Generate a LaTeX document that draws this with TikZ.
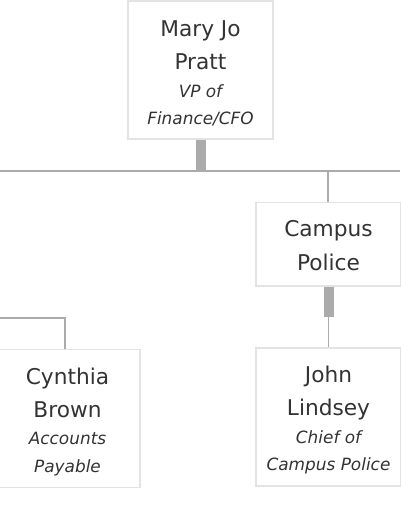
\documentclass[tikz,border=0pt]{standalone}
\usepackage{fontspec}
\setmainfont{DejaVu Sans}

\definecolor{cardline}{HTML}{E3E3E3}
\definecolor{linkgray}{HTML}{ABABAB}
\definecolor{inkgray}{HTML}{333333}

\newcommand{\roleline}[1]{{\fontsize{16.9}{27.5}\selectfont\itshape #1}}
\newcommand{\cardstrut}{\rule{0pt}{23pt}}

\begin{document}
\begin{tikzpicture}[x=1pt,y=-1pt,
    bar/.style={draw=linkgray,line width=10pt},
    link/.style={draw=linkgray,line width=1.6pt}]

      \useasboundingbox (0,0) rectangle (400,516);

      \begin{scope}[every node/.style={draw=cardline,line width=1.3pt,fill=white,
          text=inkgray,align=center,inner sep=0pt,minimum width=145pt,
          font=\fontsize{21.7}{33}\selectfont}]
        \node[minimum height=138pt] (pratt)   at (200.5,70)  {\cardstrut Mary Jo\\Pratt\\[-5.5pt]\roleline{VP of}\\[-5.5pt]\roleline{Finance/CFO}};
        \node[minimum height=83.5pt] (police) at (328.5,244.2) {\rule{0pt}{18pt}Campus\\[1pt]Police};
        \node[minimum height=138pt] (brown)   at (67.5,418.5) {\cardstrut Cynthia\\Brown\\[-5.5pt]\roleline{Accounts}\\[-5.5pt]\roleline{Payable}};
        \node[minimum height=138pt] (lindsey) at (328.5,417)  {\cardstrut John\\Lindsey\\[-5.5pt]\roleline{Chief of}\\[-5.5pt]\roleline{Campus Police}};
      \end{scope}

      \coordinate (busW)       at (0,171);
      \coordinate (busE)       at (400,171);
      \coordinate (prattDrop)  at (200.5,171);
      \coordinate (policeTap)  at (328,171);
      \coordinate (policeStub) at (328.5,317);
      \coordinate (payW)       at (0,318);
      \coordinate (payBend)    at (65,318);

      \draw[bar]  (pratt.south) -- (prattDrop);
      \draw[link] (busW) -- (busE);
      \draw[link] (policeTap) -- (policeTap |- police.north);
      \draw[bar]  (police.south) -- (policeStub);
      \draw[link] (policeStub) -- (lindsey.north);
      \draw[link] (payW) -- (payBend) -- (payBend |- brown.north);

    \end{tikzpicture}
\end{document}
